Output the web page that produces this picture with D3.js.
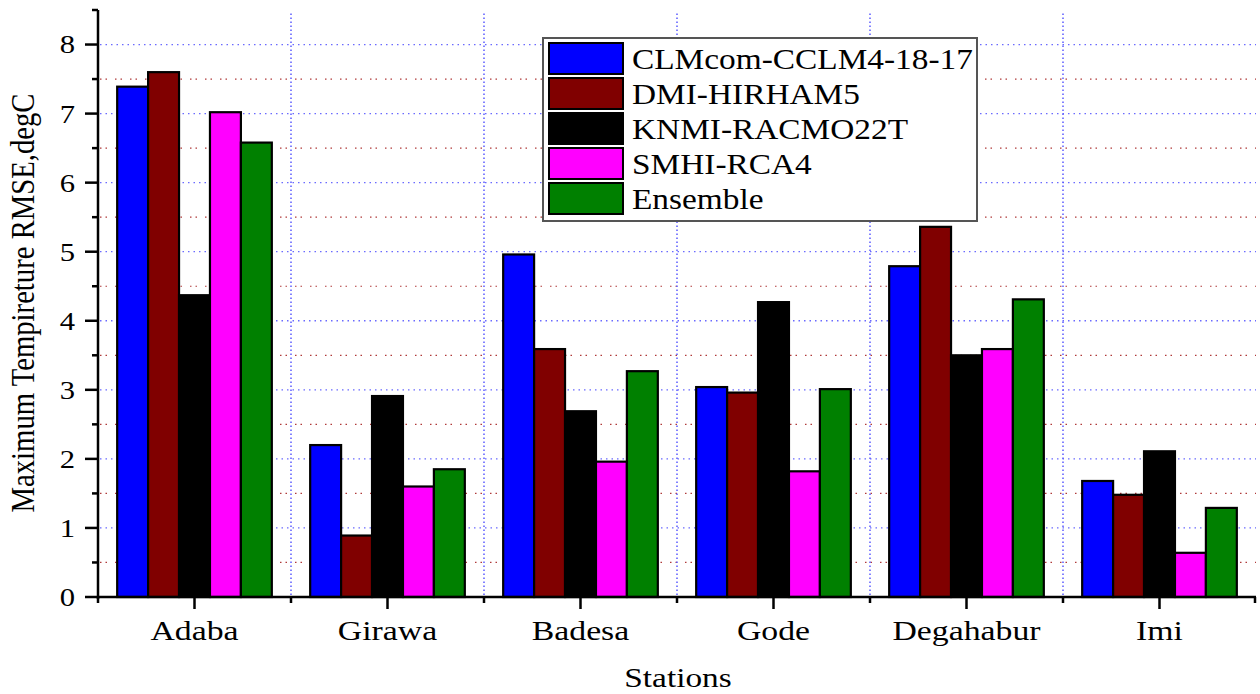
<!DOCTYPE html>
<html>
<head>
<meta charset="utf-8">
<script src="https://cdn.jsdelivr.net/npm/d3@7"></script>
<style>
  body { margin: 0; background: #fff; }
  svg text { font-family: "Liberation Serif", "Times New Roman", serif; fill: #000; }
</style>
</head>
<body>
<svg width="1260" height="694"></svg>
<script>
// data
const stations = ["Adaba", "Girawa", "Badesa", "Gode", "Degahabur", "Imi"];
const models = ["CLMcom-CCLM4-18-17", "DMI-HIRHAM5", "KNMI-RACMO22T", "SMHI-RCA4", "Ensemble"];
const colors = ["#0000ff", "#800000", "#000000", "#ff00ff", "#008000"];

const clmcom   = [7.39, 2.20, 4.96, 3.04, 4.79, 1.68];
const dmi      = [7.60, 0.89, 3.59, 2.96, 5.36, 1.48];
const knmi     = [4.37, 2.91, 2.69, 4.27, 3.50, 2.11];
const smhi     = [7.02, 1.60, 1.96, 1.82, 3.59, 0.64];
const ensemble = [6.58, 1.85, 3.27, 3.01, 4.31, 1.29];
const series = [clmcom, dmi, knmi, smhi, ensemble];

const yTicks = [0, 1, 2, 3, 4, 5, 6, 7, 8];
const yMinor = [0.5, 1.5, 2.5, 3.5, 4.5, 5.5, 6.5, 7.5];

const svg = d3.select("svg");
const plotL = 98, plotR = 1256, plotT = 10, plotB = 597;

const x = d3.scaleBand().domain(stations).range([plotL, plotR]).paddingInner(0).paddingOuter(0);
const inner = d3.scaleBand().domain(d3.range(models.length)).range([0, x.bandwidth()]).paddingOuter(0.62).paddingInner(0);
const y = d3.scaleLinear().domain([0, 8.5]).range([plotB, plotT]);

// the original's lettering is stretched sideways, so text gets a horizontal scale
const wide = (sel, px, py, s) => sel.attr("transform", (d, i) =>
  `translate(${typeof px === "function" ? px(d, i) : px},${typeof py === "function" ? py(d, i) : py}) scale(${s},1)`);

// gridlines
const grid = svg.append("g");
grid.selectAll("line.maj").data(yTicks.slice(1)).enter().append("line")
  .attr("x1", plotL + 2).attr("x2", plotR)
  .attr("y1", d => y(d)).attr("y2", d => y(d))
  .attr("stroke", "#6a6aff").attr("stroke-width", 1.3).attr("stroke-dasharray", "1.5,4");
grid.selectAll("line.min").data(yMinor).enter().append("line")
  .attr("x1", plotL + 2).attr("x2", plotR)
  .attr("y1", d => y(d)).attr("y2", d => y(d))
  .attr("stroke", "#b03a3a").attr("stroke-width", 1.2).attr("stroke-dasharray", "1.5,4,1.5,8");
grid.selectAll("line.v").data(stations.slice(1)).enter().append("line")
  .attr("x1", d => x(d)).attr("x2", d => x(d))
  .attr("y1", y(8.45)).attr("y2", plotB)
  .attr("stroke", "#5a5aff").attr("stroke-width", 1.5).attr("stroke-dasharray", "1.5,2.5");

// bars
const groups = svg.append("g").selectAll("g").data(series).enter().append("g")
  .attr("fill", (d, i) => colors[i]);
groups.selectAll("rect").data((d, i) => d.map((v, j) => ({ v, j, i }))).enter().append("rect")
  .attr("x", d => x(stations[d.j]) + inner(d.i))
  .attr("y", d => y(d.v))
  .attr("width", inner.bandwidth())
  .attr("height", d => plotB - y(d.v))
  .attr("stroke", "#000").attr("stroke-width", 2.2);

// y axis
const yAxis = svg.append("g");
yAxis.append("line").attr("x1", plotL).attr("x2", plotL).attr("y1", plotT).attr("y2", plotB + 2)
  .attr("stroke", "#000").attr("stroke-width", 2.5);
yAxis.selectAll("line.t").data(yTicks).enter().append("line")
  .attr("x1", plotL - 13).attr("x2", plotL).attr("y1", d => y(d)).attr("y2", d => y(d))
  .attr("stroke", "#000").attr("stroke-width", 2.5);
yAxis.selectAll("line.m").data(yMinor.concat([8.5])).enter().append("line")
  .attr("x1", plotL - 6).attr("x2", plotL).attr("y1", d => y(d)).attr("y2", d => y(d))
  .attr("stroke", "#000").attr("stroke-width", 2.5);
yAxis.selectAll("text").data(yTicks).enter().append("text")
  .attr("dy", "0.35em").attr("text-anchor", "end").attr("font-size", 25.5).text(d => d)
  .call(wide, 75, d => y(d), 1.2);

// x axis
const xAxis = svg.append("g");
xAxis.append("line").attr("x1", plotL - 1).attr("x2", plotR).attr("y1", plotB).attr("y2", plotB)
  .attr("stroke", "#000").attr("stroke-width", 2.5);
xAxis.selectAll("line.t").data(stations).enter().append("line")
  .attr("x1", d => x(d) + x.bandwidth() / 2).attr("x2", d => x(d) + x.bandwidth() / 2)
  .attr("y1", plotB).attr("y2", plotB + 12)
  .attr("stroke", "#000").attr("stroke-width", 2.5);
xAxis.selectAll("line.m").data(stations.concat(["end"])).enter().append("line")
  .attr("x1", d => d === "end" ? plotR - 1 : x(d)).attr("x2", d => d === "end" ? plotR - 1 : x(d))
  .attr("y1", plotB).attr("y2", plotB + 6)
  .attr("stroke", "#000").attr("stroke-width", 2.5);
xAxis.selectAll("text").data(stations).enter().append("text")
  .attr("text-anchor", "middle").attr("font-size", 27).text(d => d)
  .call(wide, d => x(d) + x.bandwidth() / 2, 640, 1.25);

// axis titles
svg.append("text").attr("text-anchor", "middle").attr("font-size", 28).text("Stations")
  .call(wide, 678, 687, 1.19);
svg.append("text").attr("transform", "translate(34,303) scale(1.2,1) rotate(-90)")
  .attr("text-anchor", "middle").attr("font-size", 28.7).text("Maximum Tempireture RMSE,degC");

// legend
const legend = svg.append("g").attr("transform", "translate(543,38)");
legend.append("rect").attr("x", 0).attr("y", 0).attr("width", 434).attr("height", 183)
  .attr("fill", "#fff").attr("stroke", "#555").attr("stroke-width", 2);
const items = legend.selectAll("g.item").data(models).enter().append("g")
  .attr("transform", (d, i) => `translate(6,${5 + i * 35})`);
items.append("rect").attr("width", 74).attr("height", 31)
  .attr("fill", (d, i) => colors[i]).attr("stroke", "#000").attr("stroke-width", 2);
items.append("text").attr("font-size", 29).text(d => d)
  .call(wide, 83, 26, 1.15);
</script>
</body>
</html>
